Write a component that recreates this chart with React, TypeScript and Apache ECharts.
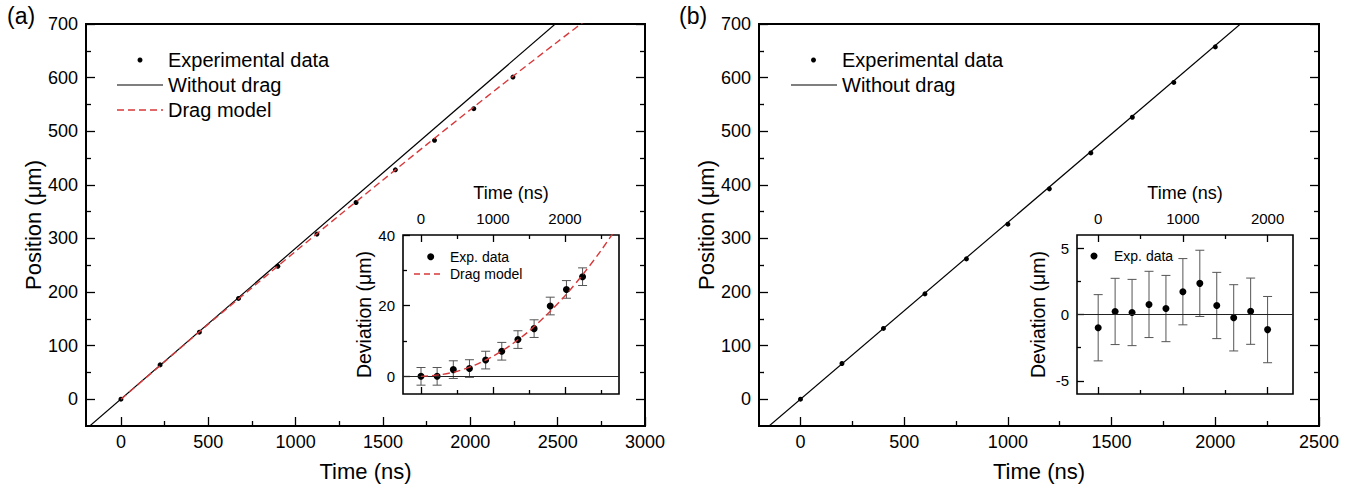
import React, { useEffect, useRef } from 'react';
import * as echarts from 'echarts';

const FONT = '"Liberation Sans", Arial, Helvetica, sans-serif';

// ---------- Panel (a) data ----------
const timeA = [0, 224, 449, 673, 898, 1122, 1346, 1571, 1795, 2020, 2244];
const posA = [0, 64, 125, 188, 248, 308, 367, 428, 483, 542, 601];
const noDragTimeA = [-200, 2600];
const noDragPosA = [-56, 732];
const dragTimeA = [0, 250, 500, 750, 1000, 1250, 1500, 1750, 2000, 2250, 2500, 2750];
const dragPosA = [0, 70, 140, 208, 276, 343, 409, 475, 540, 604, 667, 729];
const devA = [0, 0, 1.9, 2.2, 4.6, 7.1, 10.4, 13.5, 19.9, 24.6, 28.2];
const devErrA = [2.5, 2.5, 2.5, 2.5, 2.5, 2.5, 2.5, 2.5, 2.5, 2.5, 2.5];
const dragDevA = [0, 0.4, 1.4, 3.2, 5.7, 8.9, 12.8, 17.5, 22.8, 28.9, 35.6, 43];

// ---------- Panel (b) data ----------
const timeB = [0, 200, 400, 600, 800, 1000, 1200, 1400, 1600, 1800, 2000];
const posB = [0, 66.6, 132, 196.5, 261.8, 326.5, 392.4, 459.5, 526, 591, 657.3];
const noDragTimeB = [-200, 2200];
const noDragPosB = [-66, 726];
const devB = [-1.0, 0.23, 0.15, 0.76, 0.45, 1.72, 2.35, 0.68, -0.25, 0.25, -1.14];
const devErrB = [2.5, 2.5, 2.5, 2.5, 2.5, 2.5, 2.5, 2.5, 2.5, 2.5, 2.5];

// ---------- Tick values ----------
const mainXTicksA = [0, 500, 1000, 1500, 2000, 2500, 3000];
const mainXMinorA = [250, 750, 1250, 1750, 2250, 2750];
const mainXTicksB = [0, 500, 1000, 1500, 2000, 2500];
const mainXMinorB = [250, 750, 1250, 1750, 2250];
const mainYTicks = [0, 100, 200, 300, 400, 500, 600, 700];
const mainYMinor = [50, 150, 250, 350, 450, 550, 650];
const insetXTicks = [0, 1000, 2000];
const insetXMinorA = [500, 1500, 2500];
const insetXMinorB = [500, 1500];
const insetYTicksA = [0, 20, 40];
const insetYMinorA = [10, 30];
const insetYTicksB = [-5, 0, 5];
const insetYMinorB = [-2.5, 2.5];

const zip = (a: number[], b: number[]) => a.map((v, i) => [v, b[i]]);
const zip3 = (a: number[], b: number[], c: number[]) => a.map((v, i) => [v, b[i], c[i]]);

const RED = '#d8383a';
const fmt = (v: number) => String(v);

function xAx(o: any) {
  return {
    type: 'value',
    gridIndex: o.grid,
    position: o.pos,
    min: o.min,
    max: o.max,
    axisLine: { show: false, onZero: false },
    axisTick: {
      show: true,
      inside: true,
      length: o.len,
      lineStyle: { color: '#000', width: o.w || 1.3 },
      customValues: o.ticks,
    },
    axisLabel: {
      show: !!o.labels,
      customValues: o.ticks,
      formatter: fmt,
      margin: o.margin || 7,
      fontSize: o.fs || 18,
      fontFamily: FONT,
      color: '#000',
    },
    splitLine: { show: false },
    name: o.name || '',
    nameLocation: 'middle',
    nameGap: o.nameGap || 30,
    nameTextStyle: { fontSize: o.nfs || 22, fontFamily: FONT, color: '#000' },
  };
}

function yAx(o: any) {
  return {
    type: 'value',
    gridIndex: o.grid,
    position: o.pos,
    min: o.min,
    max: o.max,
    axisLine: { show: false, onZero: false },
    axisTick: {
      show: true,
      inside: true,
      length: o.len,
      lineStyle: { color: '#000', width: o.w || 1.3 },
      customValues: o.ticks,
    },
    axisLabel: {
      show: !!o.labels,
      customValues: o.ticks,
      formatter: fmt,
      margin: o.margin || 8,
      fontSize: o.fs || 18,
      fontFamily: FONT,
      color: '#000',
    },
    splitLine: { show: false },
    name: o.name || '',
    nameLocation: 'middle',
    nameGap: o.nameGap || 30,
    nameTextStyle: { fontSize: o.nfs || 22, fontFamily: FONT, color: '#000' },
  };
}

const errRender = (params: any, api: any) => {
  const x = api.value(0);
  const y = api.value(1);
  const e = api.value(2);
  const top = api.coord([x, y + e]);
  const bot = api.coord([x, y - e]);
  const hw = 4.5;
  const style = { stroke: '#555', lineWidth: 1 };
  return {
    type: 'group',
    children: [
      { type: 'line', shape: { x1: top[0], y1: top[1], x2: bot[0], y2: bot[1] }, style },
      { type: 'line', shape: { x1: top[0] - hw, y1: top[1], x2: top[0] + hw, y2: top[1] }, style },
      { type: 'line', shape: { x1: bot[0] - hw, y1: bot[1], x2: bot[0] + hw, y2: bot[1] }, style },
    ],
  };
};

const legendText = (x: number, y: number, text: string, size: number) => ({
  type: 'text',
  x,
  y,
  style: { text, fill: '#000', font: `${size}px ${FONT}`, textVerticalAlign: 'middle', textAlign: 'left' },
});

const dot = { color: '#000', opacity: 1 };

export default function App() {
  const ref = useRef<HTMLDivElement>(null);
  useEffect(() => {
    if (!ref.current) return;
    const chart = echarts.init(ref.current, undefined, { renderer: 'svg' });
    const option: any = {
      animation: false,
      backgroundColor: '#fff',
      grid: [
        { left: 86, top: 24, width: 559, height: 402, show: true, borderColor: '#000', borderWidth: 2, backgroundColor: 'transparent' },
        { left: 403, top: 235, width: 216, height: 159, show: true, borderColor: '#000', borderWidth: 1.6, backgroundColor: 'transparent' },
        { left: 759, top: 24, width: 560, height: 402, show: true, borderColor: '#000', borderWidth: 2, backgroundColor: 'transparent' },
        { left: 1077, top: 235, width: 216, height: 159, show: true, borderColor: '#000', borderWidth: 1.6, backgroundColor: 'transparent' },
      ],
      xAxis: [
        xAx({ grid: 0, pos: 'bottom', min: -200, max: 3000, ticks: mainXTicksA, len: 9, labels: true, name: 'Time (ns)', nameGap: 34 }),
        xAx({ grid: 0, pos: 'bottom', min: -200, max: 3000, ticks: mainXMinorA, len: 5 }),
        xAx({ grid: 1, pos: 'top', min: -250, max: 2750, ticks: insetXTicks, len: 7, labels: true, fs: 15, margin: 9, name: 'Time (ns)', nfs: 18, nameGap: 33 }),
        xAx({ grid: 1, pos: 'top', min: -250, max: 2750, ticks: insetXMinorA, len: 4 }),
        xAx({ grid: 1, pos: 'bottom', min: -250, max: 2750, ticks: insetXTicks, len: 7 }),
        xAx({ grid: 1, pos: 'bottom', min: -250, max: 2750, ticks: insetXMinorA, len: 4 }),
        xAx({ grid: 2, pos: 'bottom', min: -200, max: 2500, ticks: mainXTicksB, len: 9, labels: true, name: 'Time (ns)', nameGap: 34 }),
        xAx({ grid: 2, pos: 'bottom', min: -200, max: 2500, ticks: mainXMinorB, len: 5 }),
        xAx({ grid: 3, pos: 'top', min: -250, max: 2300, ticks: insetXTicks, len: 7, labels: true, fs: 15, margin: 9, name: 'Time (ns)', nfs: 18, nameGap: 33 }),
        xAx({ grid: 3, pos: 'top', min: -250, max: 2300, ticks: insetXMinorB, len: 4 }),
        xAx({ grid: 3, pos: 'bottom', min: -250, max: 2300, ticks: insetXTicks, len: 7 }),
        xAx({ grid: 3, pos: 'bottom', min: -250, max: 2300, ticks: insetXMinorB, len: 4 }),
      ],
      yAxis: [
        yAx({ grid: 0, pos: 'left', min: -50, max: 700, ticks: mainYTicks, len: 9, labels: true, name: 'Position (μm)', nameGap: 42 }),
        yAx({ grid: 0, pos: 'left', min: -50, max: 700, ticks: mainYMinor, len: 5 }),
        yAx({ grid: 0, pos: 'right', min: -50, max: 700, ticks: mainYTicks, len: 9 }),
        yAx({ grid: 0, pos: 'right', min: -50, max: 700, ticks: mainYMinor, len: 5 }),
        yAx({ grid: 1, pos: 'left', min: -5, max: 40, ticks: insetYTicksA, len: 7, labels: true, fs: 15, name: 'Deviation (μm)', nfs: 19.5, nameGap: 29 }),
        yAx({ grid: 1, pos: 'left', min: -5, max: 40, ticks: insetYMinorA, len: 4 }),
        yAx({ grid: 2, pos: 'left', min: -50, max: 700, ticks: mainYTicks, len: 9, labels: true, name: 'Position (μm)', nameGap: 42 }),
        yAx({ grid: 2, pos: 'left', min: -50, max: 700, ticks: mainYMinor, len: 5 }),
        yAx({ grid: 2, pos: 'right', min: -50, max: 700, ticks: mainYTicks, len: 9 }),
        yAx({ grid: 2, pos: 'right', min: -50, max: 700, ticks: mainYMinor, len: 5 }),
        yAx({ grid: 3, pos: 'left', min: -6, max: 6, ticks: insetYTicksB, len: 7, labels: true, fs: 15, name: 'Deviation (μm)', nfs: 19.5, nameGap: 29 }),
        yAx({ grid: 3, pos: 'left', min: -6, max: 6, ticks: insetYMinorB, len: 4 }),
      ],
      series: [
        // ---- main (a)
        {
          name: 'Without drag', type: 'line', xAxisIndex: 0, yAxisIndex: 0,
          data: zip(noDragTimeA, noDragPosA), symbol: 'none', clip: true,
          lineStyle: { color: '#000', width: 1.2 }, z: 2,
        },
        {
          name: 'Experimental data', type: 'scatter', xAxisIndex: 0, yAxisIndex: 0,
          data: zip(timeA, posA), symbol: 'circle', symbolSize: 5, itemStyle: dot, z: 3,
        },
        {
          name: 'Drag model', type: 'line', xAxisIndex: 0, yAxisIndex: 0,
          data: zip(dragTimeA, dragPosA), symbol: 'none', clip: true, smooth: 0.3,
          lineStyle: { color: RED, width: 1.4, type: [7, 4] }, z: 4,
        },
        // ---- inset (a)
        {
          name: 'Error A', type: 'custom', xAxisIndex: 2, yAxisIndex: 4,
          data: zip3(timeA, devA, devErrA), renderItem: errRender,
          encode: { x: 0, y: 1 }, z: 3,
        },
        {
          name: 'Exp. data', type: 'scatter', xAxisIndex: 2, yAxisIndex: 4,
          data: zip(timeA, devA), symbol: 'circle', symbolSize: 7, itemStyle: dot, z: 4,
          markLine: {
            silent: true, symbol: 'none', label: { show: false },
            lineStyle: { color: '#222', width: 1, type: 'solid' },
            data: [{ yAxis: 0 }],
          },
        },
        {
          name: 'Drag model inset', type: 'line', xAxisIndex: 2, yAxisIndex: 4,
          data: zip(dragTimeA, dragDevA), symbol: 'none', clip: true, smooth: 0.3,
          lineStyle: { color: RED, width: 1.4, type: [7, 4] }, z: 5,
        },
        // ---- main (b)
        {
          name: 'Without drag B', type: 'line', xAxisIndex: 6, yAxisIndex: 6,
          data: zip(noDragTimeB, noDragPosB), symbol: 'none', clip: true,
          lineStyle: { color: '#000', width: 1.2 }, z: 2,
        },
        {
          name: 'Experimental data B', type: 'scatter', xAxisIndex: 6, yAxisIndex: 6,
          data: zip(timeB, posB), symbol: 'circle', symbolSize: 5, itemStyle: dot, z: 3,
        },
        // ---- inset (b)
        {
          name: 'Error B', type: 'custom', xAxisIndex: 8, yAxisIndex: 10,
          data: zip3(timeB, devB, devErrB), renderItem: errRender,
          encode: { x: 0, y: 1 }, z: 3,
        },
        {
          name: 'Exp. data B', type: 'scatter', xAxisIndex: 8, yAxisIndex: 10,
          data: zip(timeB, devB), symbol: 'circle', symbolSize: 7, itemStyle: dot, z: 4,
          markLine: {
            silent: true, symbol: 'none', label: { show: false },
            lineStyle: { color: '#222', width: 1, type: 'solid' },
            data: [{ yAxis: 0 }],
          },
        },
      ],
      graphic: [
        { type: 'text', x: 7, y: 16, style: { text: '(a)', fill: '#000', font: `23px ${FONT}`, textVerticalAlign: 'middle' } },
        { type: 'text', x: 679, y: 16, style: { text: '(b)', fill: '#000', font: `23px ${FONT}`, textVerticalAlign: 'middle' } },
        // legend (a)
        { type: 'circle', shape: { cx: 140, cy: 60, r: 2.5 }, style: { fill: '#000' } },
        legendText(168, 60, 'Experimental data', 20),
        { type: 'line', shape: { x1: 117, y1: 85, x2: 163, y2: 85 }, style: { stroke: '#000', lineWidth: 1.2 } },
        legendText(168, 85, 'Without drag', 20),
        { type: 'line', shape: { x1: 117, y1: 110, x2: 163, y2: 110 }, style: { stroke: RED, lineWidth: 1.4, lineDash: [7, 4] } },
        legendText(168, 110, 'Drag model', 20),
        // legend (b)
        { type: 'circle', shape: { cx: 813.5, cy: 60, r: 2.5 }, style: { fill: '#000' } },
        legendText(842, 60, 'Experimental data', 20),
        { type: 'line', shape: { x1: 791, y1: 85, x2: 837, y2: 85 }, style: { stroke: '#000', lineWidth: 1.2 } },
        legendText(842, 85, 'Without drag', 20),
        // legend inset (a)
        { type: 'circle', shape: { cx: 430.7, cy: 256.7, r: 3.5 }, style: { fill: '#000' } },
        legendText(450, 256.7, 'Exp. data', 14),
        { type: 'line', shape: { x1: 414, y1: 274, x2: 442, y2: 274 }, style: { stroke: RED, lineWidth: 1.4, lineDash: [6, 4] } },
        legendText(450, 274, 'Drag model', 14),
        // legend inset (b)
        { type: 'circle', shape: { cx: 1094, cy: 256, r: 3.5 }, style: { fill: '#000' } },
        legendText(1114, 256, 'Exp. data', 14),
      ],
    };
    chart.setOption(option);
    return () => chart.dispose();
  }, []);
  return <div ref={ref} style={{ position: 'absolute', left: 0, top: 0, width: 1366, height: 491 }} />;
}
